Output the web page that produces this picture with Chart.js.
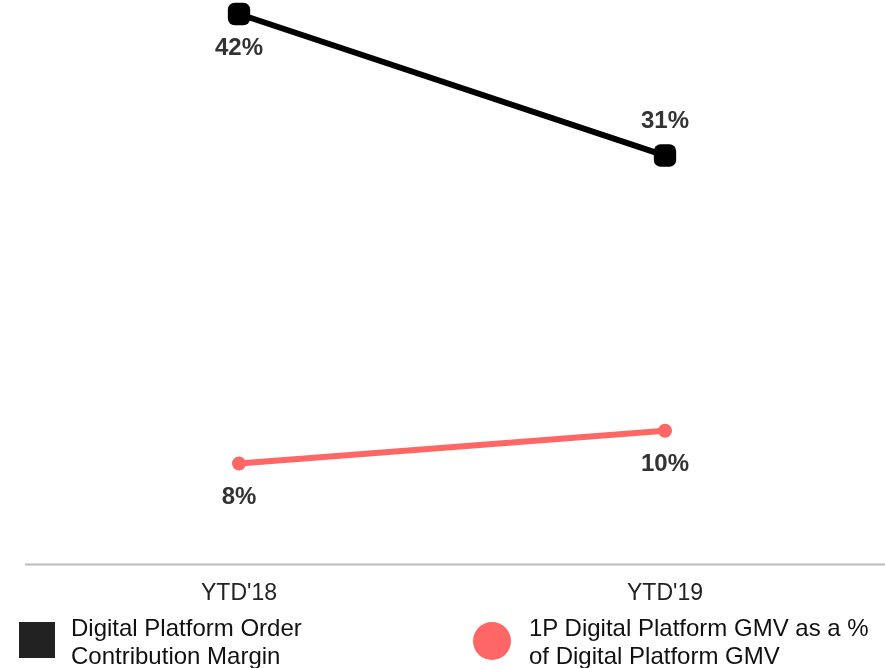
<!DOCTYPE html>
<html>
<head>
<meta charset="utf-8">
<script src="https://cdn.jsdelivr.net/npm/chart.js@4"></script>
<style>
  body { margin: 0; background: #fff; }
  #wrap { position: relative; width: 885px; height: 668px; overflow: hidden; font-family: "Liberation Sans", Arial, sans-serif; }
  #lineChart { display: block; }
  #legend { position: absolute; left: 0; top: 614px; width: 885px; }
  .item { position: absolute; top: 0; font-size: 24px; line-height: 28px; color: #111; white-space: nowrap; }
  .swatch { position: absolute; }
</style>
</head>
<body>
<div id="wrap">
  <canvas id="lineChart" width="885" height="668"></canvas>
  <div id="legend"></div>
</div>
<script>
const categories = ["YTD'18", "YTD'19"];
const marginLabel = ['Digital Platform Order', 'Contribution Margin'];
const marginData = [42, 31.2];
const gmvLabel = ['1P Digital Platform GMV as a %', 'of Digital Platform GMV'];
const gmvData = [7.7, 10.2];

// where each value label sits relative to its point
const labelSide = [
  ['below', 'above'],
  ['below', 'below']
];

const valueLabels = {
  id: 'valueLabels',
  afterDatasetsDraw(chart) {
    const ctx = chart.ctx;
    ctx.save();
    ctx.font = 'bold 24px "Liberation Sans", Arial, sans-serif';
    ctx.fillStyle = '#333';
    ctx.textAlign = 'center';
    ctx.textBaseline = 'middle';
    chart.data.datasets.forEach((ds, i) => {
      chart.getDatasetMeta(i).data.forEach((pt, j) => {
        const dy = labelSide[i][j] === 'above' ? -34 : 34;
        ctx.fillText(Math.round(ds.data[j]) + '%', pt.x, pt.y + dy);
      });
    });
    ctx.restore();
  }
};

// baseline runs on to the right edge of the canvas
const baseLine = {
  id: 'baseLine',
  beforeDatasetsDraw(chart) {
    const ctx = chart.ctx;
    const y = chart.scales.x.top;
    ctx.save();
    ctx.strokeStyle = '#bbb';
    ctx.lineWidth = 2;
    ctx.beginPath();
    ctx.moveTo(chart.chartArea.left - 1, y);
    ctx.lineTo(chart.width, y);
    ctx.stroke();
    ctx.restore();
  }
};

var lineChart = new Chart(
  document.getElementById('lineChart'),
  {
    type: 'line',
    data: {
      labels: categories,
      datasets: [
        {
          label: marginLabel.join(' '),
          data: marginData,
          borderColor: '#000',
          backgroundColor: '#000',
          borderWidth: 6,
          pointStyle: 'rectRounded',
          pointRadius: 13,
          pointHoverRadius: 13,
          pointBorderWidth: 0,
          clip: false
        },
        {
          label: gmvLabel.join(' '),
          data: gmvData,
          borderColor: '#ff6666',
          backgroundColor: '#ff6666',
          borderWidth: 6,
          pointStyle: 'circle',
          pointRadius: 7,
          pointHoverRadius: 7,
          pointBorderWidth: 0,
          clip: false
        }
      ]
    },
    options: {
      responsive: false,
      animation: false,
      layout: {
        autoPadding: false,
        padding: { top: 14, left: 26, right: 7, bottom: 54 }
      },
      plugins: {
        legend: { display: false },
        tooltip: { enabled: false }
      },
      scales: {
        x: {
          offset: true,
          grid: { display: false },
          border: { display: false },
          ticks: {
            padding: 7,
            color: '#222',
            font: { family: '"Liberation Sans", Arial, sans-serif', size: 23 }
          }
        },
        y: {
          display: false,
          min: 0,
          max: 42
        }
      }
    },
    plugins: [valueLabels, baseLine]
  }
);

// html legend under the axis
const legendItems = [
  { lines: marginLabel, color: '#222', shape: 'square', swatchX: 19, textX: 71 },
  { lines: gmvLabel, color: '#ff6666', shape: 'circle', swatchX: 473, textX: 529 }
];
const legendEl = document.getElementById('legend');
legendItems.forEach(item => {
  const sw = document.createElement('div');
  sw.className = 'swatch';
  sw.style.left = item.swatchX + 'px';
  sw.style.top = '8px';
  sw.style.width = (item.shape === 'circle' ? 38 : 36) + 'px';
  sw.style.height = (item.shape === 'circle' ? 38 : 36) + 'px';
  sw.style.background = item.color;
  if (item.shape === 'circle') sw.style.borderRadius = '50%';
  legendEl.appendChild(sw);
  const tx = document.createElement('div');
  tx.className = 'item';
  tx.style.left = item.textX + 'px';
  tx.innerHTML = item.lines.join('<br>');
  legendEl.appendChild(tx);
});
</script>
</body>
</html>
